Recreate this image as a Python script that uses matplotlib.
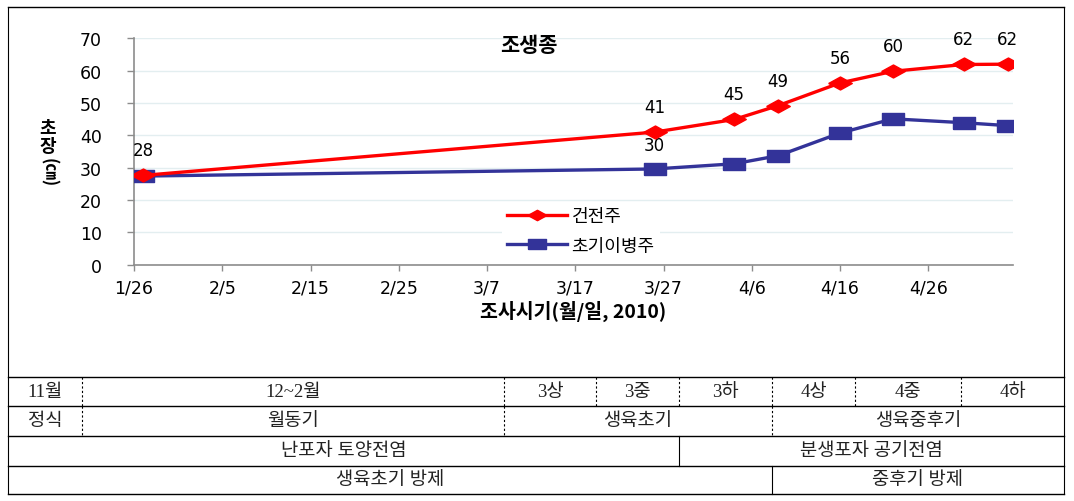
import pandas as pd
import matplotlib.pyplot as plt
import matplotlib.dates as mdates

# Survey dates and plant heights (cm)
dates = pd.to_datetime(["2010-01-27", "2010-03-26", "2010-04-04", "2010-04-09",
                        "2010-04-16", "2010-04-22", "2010-04-30", "2010-05-05"])
healthy = [27.6, 41, 44.9, 49.2, 56.2, 59.8, 61.9, 62]
diseased = [27.4, 29.6, 31.2, 33.7, 40.7, 45.1, 43.9, 43.0]
tick_dates = pd.date_range("2010-01-26", periods=10, freq="10D")
series_names = ["건전주", "초기이병주"]

# Schedule table below the chart: (text, x_left, x_right) per row
row_month = [("11월", 8, 82), ("12~2월", 82, 504), ("3상", 504, 596), ("3중", 596, 679),
             ("3하", 679, 772), ("4상", 772, 855), ("4중", 855, 961), ("4하", 961, 1064)]
row_stage = [("정식", 8, 82), ("월동기", 82, 504), ("생육초기", 504, 772), ("생육중후기", 772, 1064)]
row_infect = [("난포자 토양전염", 8, 679), ("분생포자 공기전염", 679, 1064)]
row_control = [("생육초기 방제", 8, 772), ("중후기 방제", 772, 1064)]

plt.rcParams['font.family'] = ['Noto Sans CJK KR', 'DejaVu Sans']

W, H = 1074, 502
fig = plt.figure(figsize=(W / 100, H / 100), dpi=100)

# background axes in pixel coords for the frame / table
bg = fig.add_axes([0, 0, 1, 1])
bg.set_xlim(0, W)
bg.set_ylim(H, 0)
bg.axis('off')

def hline(y, x0=8, x1=1064, ls='-'):
    bg.plot([x0, x1], [y, y], color='black', lw=1.0, ls=ls)

def vline(x, y0, y1, ls='-'):
    bg.plot([x, x], [y0, y1], color='black', lw=0.8, ls=ls)

rows_y = [378, 407, 437, 467, 495]
hline(8)
for y in rows_y:
    hline(y)
vline(8, 8, 495)
vline(1064, 8, 495)

dash = (0, (2, 2))
for _, x0, x1 in row_month[1:]:
    vline(x0, rows_y[0], rows_y[1], ls=dash)
for _, x0, x1 in row_stage[1:]:
    vline(x0, rows_y[1], rows_y[2], ls=dash)
vline(row_infect[1][1], rows_y[2], rows_y[3])
vline(row_control[1][1], rows_y[3], rows_y[4])

serif = ['Liberation Serif', 'Noto Sans CJK KR']
for i, row in enumerate([row_month, row_stage, row_infect, row_control]):
    yc = (rows_y[i] + rows_y[i + 1]) / 2
    for text, x0, x1 in row:
        bg.text((x0 + x1) / 2, yc, text, ha='center', va='center',
                fontsize=13.5, family=serif, color='#222222')

# chart axes
left, right, top, bottom = 134, 1013, 39.3, 265.7
ax = fig.add_axes([left / W, 1 - bottom / H, (right - left) / W, (bottom - top) / H])

diamond = [(-1, 0), (0, 0.55), (1, 0), (0, -0.55), (-1, 0)]
rect = [(-1, -0.52), (1, -0.52), (1, 0.52), (-1, 0.52), (-1, -0.52)]

ax.plot(dates, healthy, color='#ff0000', lw=2.4, marker=diamond, ms=17,
        mec='#ff0000', mfc='#ff0000', label=series_names[0], zorder=4)
ax.plot(dates, diseased, color='#333399', lw=2.4, marker=rect, ms=16.5,
        mec='#333399', mfc='#333399', label=series_names[1], zorder=3)

for d, v in zip(dates, healthy):
    ax.annotate(f"{v:.0f}", (d, v), xytext=(0, 18), textcoords='offset points',
                ha='center', va='center', fontsize=12, family='DejaVu Sans')
ax.annotate(f"{diseased[1]:.0f}", (dates[1], diseased[1]), xytext=(0, 17),
            textcoords='offset points', ha='center', va='center',
            fontsize=12, family='DejaVu Sans')

start = mdates.date2num(pd.Timestamp("2010-01-26"))
ax.set_xlim(start, start + 99.6)
ax.set_ylim(0, 70)
ax.set_xticks(tick_dates)
ax.set_xticklabels([f"{d.month}/{d.day}" for d in tick_dates], family='DejaVu Sans')
ax.set_yticks(range(0, 71, 10))
ax.tick_params(axis='y', length=5, width=1, color='#8c8c8c', pad=18, labelsize=12.5)
ax.tick_params(axis='x', length=4, width=1, color='#8c8c8c', pad=6, labelsize=12.5)
for lab in ax.get_yticklabels():
    lab.set_family('DejaVu Sans')

for s in ['top', 'right']:
    ax.spines[s].set_visible(False)
for s in ['left', 'bottom']:
    ax.spines[s].set_color('#8c8c8c')
    ax.spines[s].set_linewidth(1.2)
ax.grid(axis='y', color='#e3eef0', lw=1)
ax.set_axisbelow(True)

ax.set_xlabel("조사시기(월/일, 2010)", fontsize=14, fontweight='bold', labelpad=2)
fig.text(529 / W, 1 - 46 / H, "조생종", fontsize=15, fontweight='bold',
         ha='center', va='center')
fig.text(48 / W, 1 - 137 / H, "초\n장", fontsize=13, fontweight='bold',
         ha='center', va='center', linespacing=1.0)
fig.text(48 / W, 1 - 173 / H, "(㎝)", fontsize=12, fontweight='bold',
         ha='center', va='center', rotation=270)

leg = ax.legend(loc='upper left', bbox_to_anchor=(493 / W, 1 - 194 / H),
                bbox_transform=fig.transFigure, fontsize=13, handlelength=3.3,
                handletextpad=0.25, labelspacing=0.62, borderpad=0.3,
                frameon=True, fancybox=False, markerscale=0.8)
leg.get_frame().set_edgecolor('none')
leg.get_frame().set_facecolor('white')
leg.get_frame().set_alpha(1)

fig.savefig("out.png", dpi=100)
